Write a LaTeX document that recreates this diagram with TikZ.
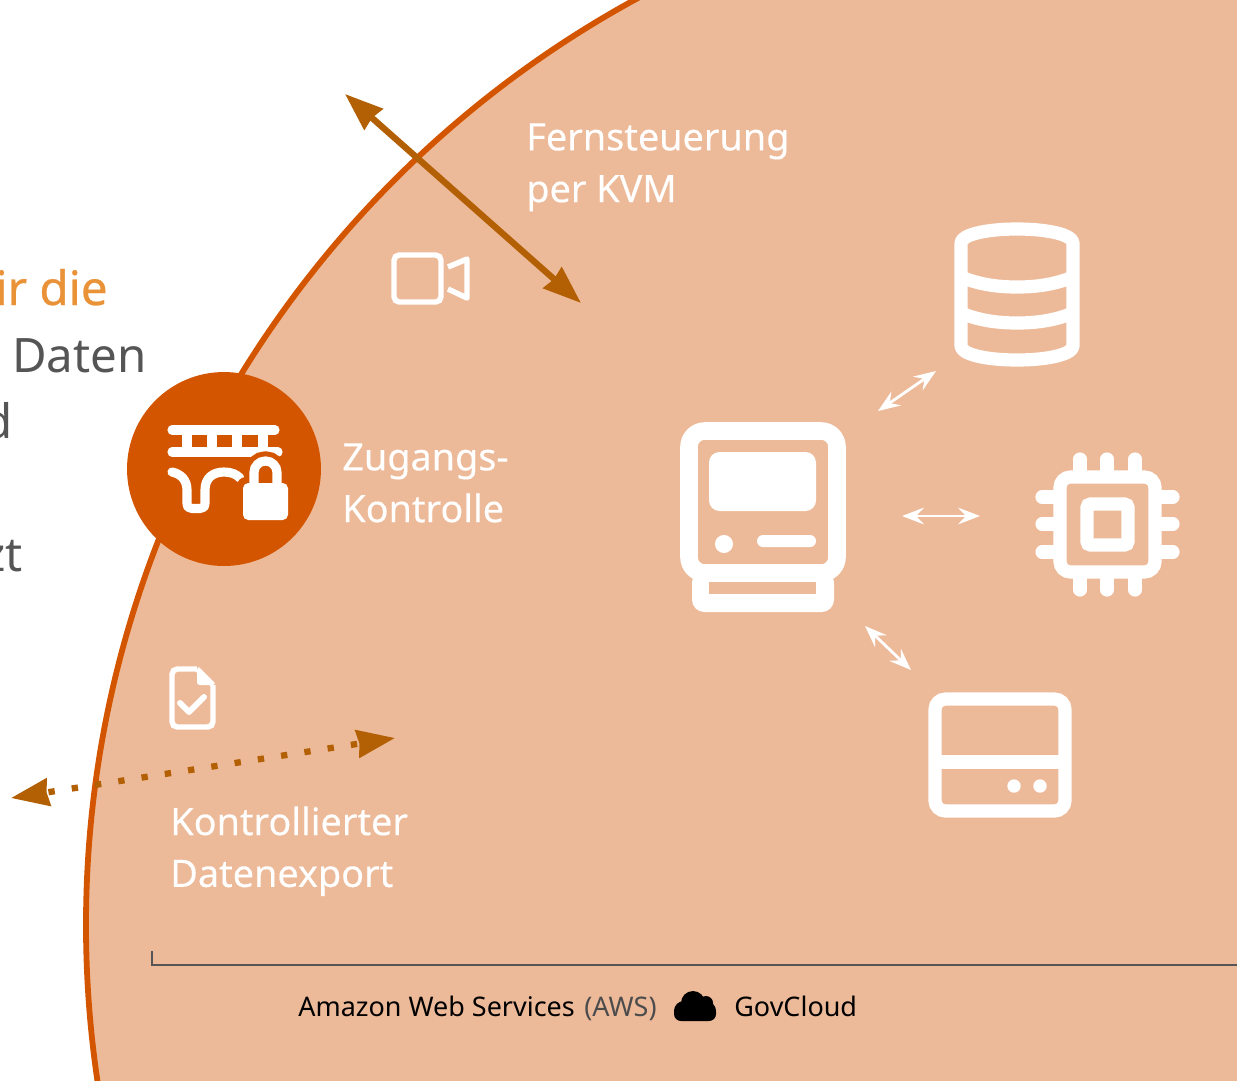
\documentclass[tikz,border=0pt]{standalone}
\usepackage{fontspec}
\setmainfont{Noto Sans}
\newfontfamily\medfont{Noto Sans}[FakeBold=0.25]
\newfontfamily\semifont{Noto Sans}[FakeBold=0.6]
\usepackage{xcolor}
\usetikzlibrary{arrows.meta,positioning}
\definecolor{zoneFill}{HTML}{EDBA99}
\definecolor{zoneEdge}{HTML}{D45500}
\definecolor{linkBrown}{HTML}{B35F04}
\definecolor{headOrange}{HTML}{EA9238}
\definecolor{bodyGray}{HTML}{555555}
\newcommand{\labelfont}{\medfont\fontsize{21.5}{29.5}\selectfont}
\newcommand{\sidefont}{\fontsize{27}{27}\selectfont}
\newcommand{\footfont}{\fontsize{15.35}{18}\selectfont}

\begin{document}
\begin{tikzpicture}[x=0.02cm,y=-0.02cm,
                          whitelabel/.style={white, font=\labelfont, align=left, inner sep=0pt},
                          sidetext/.style={font=\sidefont, inner sep=0pt, anchor=base east},
                          foot/.style={font=\footfont, inner sep=0pt, anchor=base west},
                          bigarrow/.style={linkBrown, line width=3.6pt, {Stealth[length=21.5pt,width=15.5pt,inset=1pt]}-{Stealth[length=21.5pt,width=15.5pt,inset=1pt]}},
                          smallarrow/.style={white, line width=1.6pt, {Stealth[length=12.5pt,width=9.5pt,inset=4.5pt]}-{Stealth[length=12.5pt,width=9.5pt,inset=4.5pt]}},
                          icon/.style={white, line width=#1, line cap=round, line join=round},
                         ]

\useasboundingbox (0,0) rectangle (1237,1080);
\clip (0,0) rectangle (1237,1080);

\fill[white] (0,0) rectangle (1237,1080);
\draw[zoneEdge, fill=zoneFill, line width=3.3pt] (1140,925) circle[radius=1054];

% text cut off by the left edge
\node[sidetext, headOrange, font=\semifont\sidefont] (head) at (108,305) {ir die};
\node[sidetext, bodyGray] (daten) at (147,372) {Daten};
\node[sidetext, bodyGray] (undd) at (13,438) {d};
\node[sidetext, bodyGray] (zt) at (23,571) {zt};

% labels
\node[whitelabel, anchor=north west] (kvm) at (526,123) {Fernsteuerung\\per KVM};
\node[whitelabel, anchor=north west] (zugang) at (342,443) {Zugangs-\\Kontrolle};
\node[whitelabel, anchor=north west] (export) at (170,806) {Kontrollierter\\Datenexport};

% brown arrows
\coordinate (kvmA) at (345,94);
\coordinate (kvmB) at (581,303);
\coordinate (expA) at (11,798);
\coordinate (expB) at (395,738);
\draw[bigarrow] (kvmA) -- (kvmB);
\draw[bigarrow, dash pattern=on 3.6pt off 9.8pt, dash phase=11.4pt] (expA) -- (expB);

% access circle with bridge and lock
\node[circle, fill=zoneEdge, minimum size=3.88cm, inner sep=0pt] (gate) at (224,469) {};
\draw[icon=5.2pt] (172,430) -- (275,430);
\draw[icon=5.2pt] (172,452) -- (278,452);
\foreach \xpost in {187,212,237,263}
    \draw[white, line width=5.2pt] (\xpost,430) -- (\xpost,452);
\draw[icon=5.2pt] (172,472) .. controls (181,474) and (187,480) .. (187,490) -- (187,503)
    .. controls (187,507) and (189,508.5) .. (192,508.5) -- (200,508.5)
    .. controls (203,508.5) and (205,507) .. (205,503) -- (205,490)
    .. controls (205,478) and (213,472) .. (224,472) .. controls (231,472) and (236,474) .. (240,478);
\draw[zoneEdge, line width=11pt, rounded corners=6.5pt] (254,495) -- (254,461) -- (277,461) -- (277,495);
\fill[zoneEdge, rounded corners=5pt] (237,477) rectangle (294,526);
\draw[white, line width=5.2pt, rounded corners=6.5pt] (254,490) -- (254,461) -- (277,461) -- (277,490);
\fill[white, rounded corners=3pt] (243,483) rectangle (288,520);

% camera
\draw[white, line width=3.1pt, rounded corners=3pt] (394,255) rectangle (441,302);
\draw[white, line width=3.1pt, line join=round] (448,267) -- (467,259) -- (467,298) -- (448,289);

% document
\fill[white, line join=round] (197,669) -- (213,685) -- (200,685) .. controls (198,685) and (197,684) .. (197,682) -- cycle;
\draw[white, line width=3.1pt, rounded corners=3pt] (197,669) -- (172,669) -- (172,727) -- (213,727) -- (213,685);
\draw[white, line width=3.1pt, line join=round] (197,669) -- (213,685);
\draw[icon=3.4pt] (180,703) -- (189,712) -- (204,697);

% computer
\draw[white, line width=10pt, rounded corners=9pt] (689,431) rectangle (837,573);
\fill[white, rounded corners=6pt] (709,452) rectangle (816,511);
\fill[white] (724,544) circle[radius=9];
\fill[white, rounded corners=3.4pt] (757,535) rectangle (816,547);
\fill[white, rounded corners=7pt] (692,570) rectangle (834,612);
\fill[zoneFill] (709,582) rectangle (816,594);

% database
\draw[white, line width=7.5pt, line join=round] (961,243) .. controls (961,235) and (985,229) .. (1017,229) .. controls (1049,229) and (1073,235) .. (1073,243)
    -- (1073,346) .. controls (1073,354) and (1049,360) .. (1017,360) .. controls (985,360) and (961,354) .. (961,346) -- cycle;
\draw[white, line width=7.5pt] (961,277) .. controls (978,284) and (996,287) .. (1017,287) .. controls (1038,287) and (1056,284) .. (1073,277);
\draw[white, line width=7.5pt] (961,313) .. controls (978,320) and (996,323) .. (1017,323) .. controls (1038,323) and (1056,320) .. (1073,313);

% chip
\draw[white, line width=7.5pt, rounded corners=6pt] (1060,477) rectangle (1155,572);
\draw[white, line width=7.5pt, rounded corners=2pt] (1087,504) rectangle (1128,545);
\foreach \xpin in {1080,1107,1135} {
    \draw[icon=7.5pt] (\xpin,459) -- (\xpin,470);
    \draw[icon=7.5pt] (\xpin,579) -- (\xpin,590);
}
\foreach \ypin in {497,524,552} {
    \draw[icon=7.5pt] (1042,\ypin) -- (1053,\ypin);
    \draw[icon=7.5pt] (1162,\ypin) -- (1173,\ypin);
}

% disk
\draw[white, line width=7.5pt, rounded corners=6pt] (935,699) rectangle (1065,811);
\draw[white, line width=7.5pt] (935,762) -- (1065,762);
\fill[white] (1014,786) circle[radius=6.7];
\fill[white] (1040,786) circle[radius=6.7];

% small arrows
\coordinate (hubDb) at (878,411);
\coordinate (dbEnd) at (936,371);
\coordinate (hubChip) at (902,516);
\coordinate (chipEnd) at (980,516);
\coordinate (hubDisk) at (865,626);
\coordinate (diskEnd) at (911,670);
\draw[smallarrow] (hubDb) -- (dbEnd);
\draw[smallarrow] (hubChip) -- (chipEnd);
\draw[smallarrow] (hubDisk) -- (diskEnd);

% footer
\coordinate (ruleTop) at (152,951);
\coordinate (ruleCorner) at (152,965);
\coordinate (ruleEnd) at (1237,965);
\draw[bodyGray, line width=0.9pt] (ruleTop) -- (ruleCorner) -- (ruleEnd);
\node[foot, black] (aws) at (298,1016) {Amazon Web Services};
\node[foot, black!70] (awsb) at (584,1016) {(AWS)};
\node[foot, black] (gov) at (734,1016) {GovCloud};
\fill[black, rounded corners=4pt] (674,1005) rectangle (716,1021);
\fill[black] (684,1011) circle[radius=10];
\fill[black] (693,1003) circle[radius=12];
\fill[black] (706,1003) circle[radius=7];
\fill[black] (706,1011) circle[radius=10];
\end{tikzpicture}
\end{document}
